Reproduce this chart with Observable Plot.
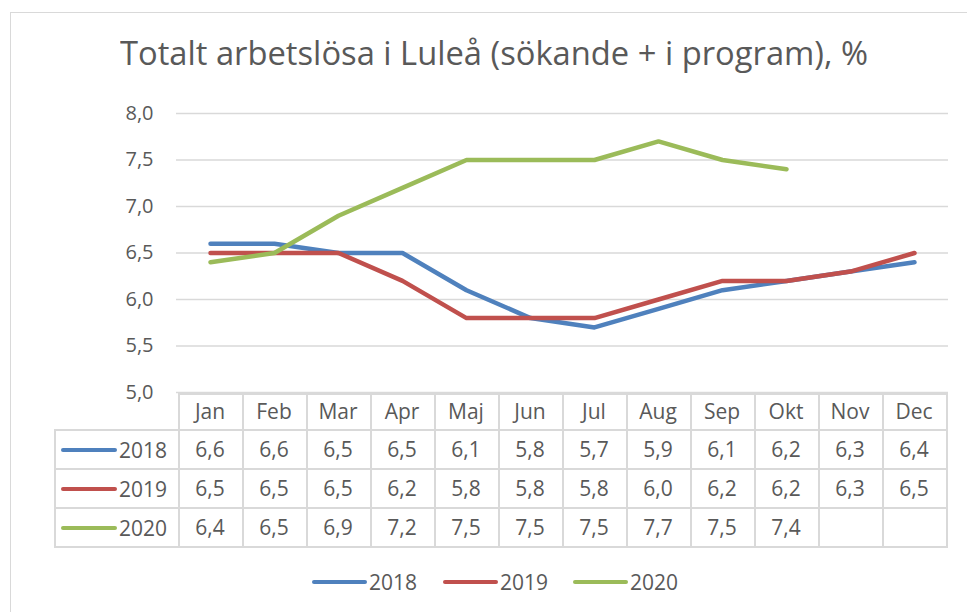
<!DOCTYPE html>
<html><head><meta charset="utf-8">
<script src="https://cdn.jsdelivr.net/npm/d3@7"></script>
<script src="https://cdn.jsdelivr.net/npm/@observablehq/plot@0.6"></script>
<style>
body{margin:0;background:#fff;font-family:"Open Sans",sans-serif;color:#595959}
#wrap{position:relative;width:967px;height:612px;overflow:hidden;background:#fff}
#frame{position:absolute;left:10px;top:12px;width:1000px;height:700px;border:1.5px solid #d9d9d9;box-sizing:border-box}
#title{position:absolute;left:120px;top:36px;font-size:33px;line-height:33px;white-space:nowrap;transform-origin:0 0;color:#595959}
#chart{position:absolute;left:0;top:0}
.hl{position:absolute;height:1.5px;background:#d9d9d9}
.vl{position:absolute;width:1.5px;background:#d9d9d9}
.cell{position:absolute;display:flex;align-items:center;justify-content:center;font-size:21px;color:#595959;white-space:nowrap}
.sw{position:absolute;height:4px;border-radius:2px}
.lt{position:absolute;font-size:21px;line-height:24px;color:#595959}
</style></head><body>
<div id="wrap">
  <div id="frame"></div>
  <div id="title">Totalt arbetslösa i Luleå (sökande + i program), %</div>
  <div id="chart"></div>
</div>
<script>
const months = ["Jan","Feb","Mar","Apr","Maj","Jun","Jul","Aug","Sep","Okt","Nov","Dec"];
const years = ["2018","2019","2020"];
const v2018 = [6.6,6.6,6.5,6.5,6.1,5.8,5.7,5.9,6.1,6.2,6.3,6.4];
const v2019 = [6.5,6.5,6.5,6.2,5.8,5.8,5.8,6.0,6.2,6.2,6.3,6.5];
const v2020 = [6.4,6.5,6.9,7.2,7.5,7.5,7.5,7.7,7.5,7.4,null,null];
const yTicks = [5.0,5.5,6.0,6.5,7.0,7.5,8.0];
const colors = ["#4F81BD","#C0504D","#9BBB59"];

const series = {"2018": v2018, "2019": v2019, "2020": v2020};
const data = [];
for (const y of years) series[y].forEach((v, i) => data.push({year: y, month: months[i], value: v}));
const fmt = v => v == null ? "" : d3.format(".1f")(v).replace(".", ",");

const W = 967, H = 400;
const plot = Plot.plot({
  width: W, height: H,
  marginTop: 113, marginBottom: 8, marginLeft: 176, marginRight: 19,
  style: {fontFamily: "Open Sans, sans-serif", color: "#595959", background: "transparent", overflow: "visible"},
  x: {type: "point", domain: months, padding: 0.5, axis: null},
  y: {domain: [5, 8], ticks: yTicks},
  color: {domain: years, range: colors},
  marks: [
    Plot.gridY(yTicks, {stroke: "#d9d9d9", strokeOpacity: 1, strokeWidth: 1.5}),
    Plot.axisY(yTicks, {tickSize: 0, tickPadding: 23, tickFormat: fmt, fontSize: 20, fill: "#595959", label: null}),
    Plot.line(data.filter(d => d.value != null), {x: "month", y: "value", stroke: "year", z: "year", strokeWidth: 4.5, strokeLinejoin: "round", strokeLinecap: "round"})
  ]
});
document.getElementById("chart").appendChild(plot);

// Title width fit
const t = document.getElementById("title");
const tw = t.getBoundingClientRect().width;
t.style.transform = `scaleX(${748 / tw})`;

// Data table below the plot, aligned with the plot's x scale
const wrap = document.getElementById("wrap");
const xs = plot.scale("x");
const centers = months.map(m => xs.apply(m));
const step = centers[1] - centers[0];
const left0 = centers[0] - step / 2, right0 = centers[11] + step / 2;
const labelLeft = 54;
const rowsY = [393, 429, 468, 507, 546];
function add(cls, css, txt) {
  const d = document.createElement("div");
  d.className = cls;
  Object.assign(d.style, css);
  if (txt != null) d.textContent = txt;
  wrap.appendChild(d);
  return d;
}
// horizontal lines
add("hl", {left: left0 + "px", top: rowsY[0] + "px", width: (right0 - left0) + "px"});
for (let r = 1; r < rowsY.length; r++) add("hl", {left: labelLeft + "px", top: rowsY[r] + "px", width: (right0 - labelLeft) + "px"});
// vertical lines
add("vl", {left: labelLeft + "px", top: rowsY[1] + "px", height: (rowsY[4] - rowsY[1] + 1.5) + "px"});
for (let i = 0; i <= 12; i++) add("vl", {left: (left0 + i * step) + "px", top: rowsY[0] + "px", height: (rowsY[4] - rowsY[0] + 1.5) + "px"});
// header
months.forEach((m, i) => add("cell", {left: (left0 + i * step) + "px", top: rowsY[0] + "px", width: step + "px", height: (rowsY[1] - rowsY[0]) + "px"}, m));
// rows
years.forEach((y, r) => {
  const top = rowsY[r + 1], h = rowsY[r + 2] - top;
  add("sw", {left: "61px", width: "56px", top: (top + h / 2 - 1) + "px", background: colors[r]});
  add("lt", {left: "119px", top: (top + h / 2 - 11) + "px"}, y);
  series[y].forEach((v, i) => add("cell", {left: (left0 + i * step) + "px", top: top + "px", width: step + "px", height: h + "px"}, fmt(v)));
});
// legend
const legX = [312, 443, 573];
years.forEach((y, i) => {
  add("sw", {left: legX[i] + "px", width: "55px", top: "580px", background: colors[i]});
  add("lt", {left: (legX[i] + 57) + "px", top: "570px"}, y);
});
</script>
</body></html>
